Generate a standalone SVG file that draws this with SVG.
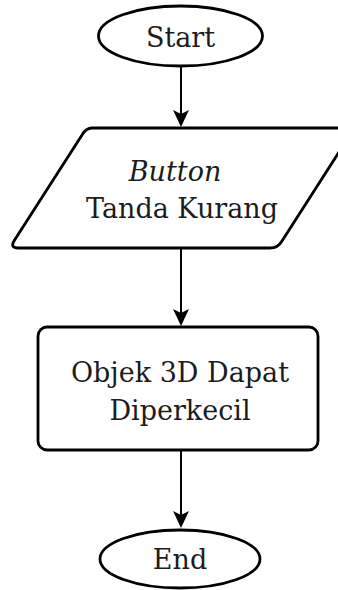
<svg xmlns="http://www.w3.org/2000/svg" width="338" height="590" viewBox="0 0 338 590">
  <style>
    .shape { fill: #ffffff; stroke: #000000; stroke-width: 2.8; }
    .edge { fill: none; stroke: #000000; stroke-width: 2; }
    .head { fill: #000000; stroke: none; }
    .label { font-family: 'DejaVu Serif', serif; font-size: 27px; fill: #1c1c1c; text-anchor: middle; }
    .it { font-style: italic; }
  </style>
  <defs>
    <path id="head" class="head" d="M-8,-17 L0,-13 L8,-17 L0,0 Z"/>
  </defs>
  <rect width="338" height="590" fill="#ffffff"/>

  <g id="connectors">
    <line class="edge" x1="181" y1="66" x2="181" y2="116"/>
    <use href="#head" x="181" y="127"/>
    <line class="edge" x1="181" y1="249" x2="181" y2="315"/>
    <use href="#head" x="181" y="326"/>
    <line class="edge" x1="181" y1="451" x2="181" y2="517"/>
    <use href="#head" x="181" y="528"/>
  </g>

  <g id="start">
    <ellipse class="shape" cx="180.5" cy="36" rx="82" ry="30"/>
    <text class="label" x="180.5" y="47" font-size="26">Start</text>
  </g>

  <g id="input">
    <path class="shape" d="M92,128 L346,128 Q354,128 350,135 L282,241 Q278,248 270,248 L18,248 Q10,248 14,241 L82,135 Q86,128 92,128 Z"/>
    <text class="label it" x="175" y="181">Button</text>
    <text class="label" x="182" y="218">Tanda Kurang</text>
  </g>

  <g id="process">
    <rect class="shape" x="38" y="327" width="280" height="123" rx="9" ry="9"/>
    <text class="label" x="180" y="382">Objek 3D Dapat</text>
    <text class="label" x="180" y="420">Diperkecil</text>
  </g>

  <g id="end">
    <ellipse class="shape" cx="180" cy="559" rx="80" ry="29"/>
    <text class="label" x="180" y="569" font-size="26">End</text>
  </g>
</svg>
